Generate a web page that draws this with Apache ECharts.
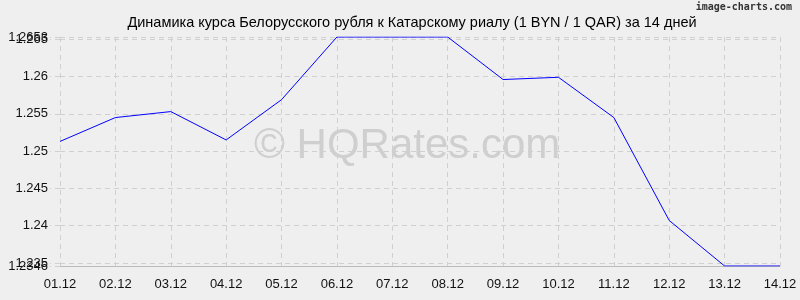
<!DOCTYPE html>
<html><head><meta charset="utf-8">
<script src="https://cdn.jsdelivr.net/npm/echarts@6/dist/echarts.min.js"></script>
<style>html,body{margin:0;padding:0;background:#efefef}#c{width:800px;height:300px}</style>
</head><body><div id="c"></div>
<script>
const categories = ["01.12","02.12","03.12","04.12","05.12","06.12","07.12","08.12","09.12","10.12","11.12","12.12","13.12","14.12"];
const rates = [1.2513,1.2545,1.2553,1.2515,1.2569,1.2653,1.2653,1.2653,1.2596,1.2599,1.2545,1.2407,1.2346,1.2346];
const yTicks = [1.235,1.24,1.245,1.25,1.255,1.26,1.265];
const yEdgeTicks = [1.2346,1.2653];
const yMin = 1.2346, yMax = 1.2653;
const titleText = "Динамика курса Белорусского рубля к Катарскому риалу (1 BYN / 1 QAR) за 14 дней";

const labelStyle = {color:'#111',fontSize:13,fontFamily:'Liberation Sans, Arial',margin:12,hideOverlap:false,
  formatter:v=>String(+(+v).toFixed(4))};
const dash = {color:'#d0d0d0',type:[5,4]};
function yAx(ticks){
  return {type:'value',min:yMin,max:yMax,position:'left',
    axisLine:{show:false},
    axisTick:{show:true,customValues:ticks,length:10,lineStyle:dash},
    axisLabel:Object.assign({customValues:ticks},labelStyle),
    splitLine:{show:true,lineStyle:dash}};
}
const chart = echarts.init(document.getElementById('c'), null, {renderer:'canvas'});
chart.setOption({
  backgroundColor:'#efefef',
  animation:false,
  title:{text:titleText,left:407,top:10,textAlign:'center',
    textStyle:{fontFamily:'Liberation Sans, Arial',fontSize:14.5,fontWeight:'normal',color:'#000'}},
  graphic:[
    {type:'text',right:8,top:2,style:{text:'image-charts.com',font:'bold 10px DejaVu Sans Mono',fill:'#333'}},
    {type:'text',left:254,top:125,style:{text:'© HQRates.com',font:'42px Liberation Sans, Arial',fill:'#cfcfcf'},z:0}
  ],
  grid:{left:60,right:20,top:37,bottom:34},
  xAxis:{type:'category',data:categories,boundaryGap:false,
    axisLine:{show:true,lineStyle:{color:'#bbb'}},axisTick:{show:false},
    axisLabel:{color:'#111',fontSize:13,fontFamily:'Liberation Sans, Arial',margin:12},
    splitLine:{show:true,lineStyle:dash}},
  yAxis:[yAx(yTicks), yAx(yEdgeTicks)],
  series:[{type:'line',data:rates,symbol:'none',lineStyle:{color:'#0000ff',width:1},z:5}]
});
</script></body></html>
